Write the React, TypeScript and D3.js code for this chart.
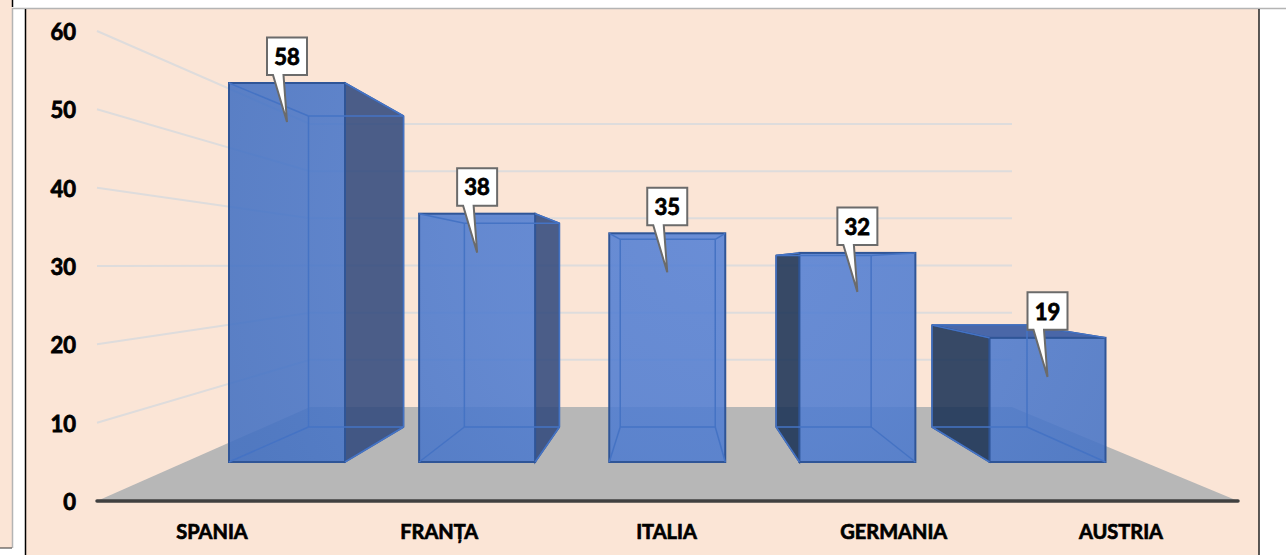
import React from "react";
import * as d3 from "d3";

const categories = ["SPANIA", "FRANȚA", "ITALIA", "GERMANIA", "AUSTRIA"];
const values = [58, 38, 35, 32, 19];
const yTicks = [0, 10, 20, 30, 40, 50, 60];

const W = 1286, H = 555;
const FONT = "Lato, Carlito, Calibri, sans-serif";
const PEACH = "#fbe5d6";

// wall / floor planes
const yWallFront = d3.scaleLinear().domain([0, 60]).range([501, 31]);
const yWallBack = d3.scaleLinear().domain([0, 60]).range([407, 124]);
const FLOOR = { fl: 97, fr: 1238, bl: 310, br: 1012 };

// bar planes
const xFront = d3.scalePoint<string>().domain(categories).range([287, 1047.5]);
const xBack = d3.scalePoint<string>().domain(categories).range([356, 979.5]);
const xLabel = d3.scalePoint<string>().domain(categories).range([212, 1121]);
const yFront = d3.scaleLinear().domain([0, 58]).range([462, 83]);
const yBack = d3.scaleLinear().domain([0, 58]).range([427, 116]);
const HW_F = 58, HW_B = 47.5;

const pts = (a: [number, number][]) => a.map((p) => p.join(",")).join(" ");

function Bar({ c, v }: { c: string; v: number }) {
  const fc = xFront(c)!, bc = xBack(c)!;
  const fl = fc - HW_F, fr = fc + HW_F, bl = bc - HW_B, br = bc + HW_B;
  const ft = yFront(v), fb = yFront(0), bt = yBack(v), bb = yBack(0);
  const EDGE = "#2f5597";
  const INNER = "#4573c4";
  const line = (x1: number, y1: number, x2: number, y2: number) => (
    <line x1={x1} y1={y1} x2={x2} y2={y2} stroke={INNER} strokeWidth={1.5} />
  );
  return (
    <g>
      {br > fr && (
        <polygon points={pts([[fr, ft], [br, bt], [br, bb], [fr, fb]])} fill="#30487c" fillOpacity={0.87} stroke={EDGE} strokeWidth={1.5} />
      )}
      {bl < fl && (
        <polygon points={pts([[fl, ft], [bl, bt], [bl, bb], [fl, fb]])} fill="#193155" fillOpacity={0.87} stroke="#2a4a80" strokeWidth={1.5} />
      )}
      {bt < ft && (
        <polygon points={pts([[fl, ft], [bl, bt], [br, bt], [fr, ft]])} fill="#2f54a1" fillOpacity={0.87} stroke={EDGE} strokeWidth={1.5} />
      )}
      <rect x={fl} y={ft} width={fr - fl} height={fb - ft} fill="url(#frontGlow)" fillOpacity={0.874} stroke={EDGE} strokeWidth={2} />
      {line(bl, bt, br, bt)}
      {line(bl, bt, bl, bb)}
      {line(br, bt, br, bb)}
      {line(bl, bb, br, bb)}
      {line(fl, ft, bl, bt)}
      {line(fr, ft, br, bt)}
      {line(fl, fb, bl, bb)}
      {line(fr, fb, br, bb)}
    </g>
  );
}

function Callout({ c, v }: { c: string; v: number }) {
  const cx = xFront(c)!;
  const top = yFront(v);
  const bx0 = cx - 20, bx1 = cx + 20, by0 = top - 45.5, by1 = top - 8;
  const tip = top + 39;
  const d = d3.path();
  d.moveTo(bx0, by0);
  d.lineTo(bx1, by0);
  d.lineTo(bx1, by1);
  d.lineTo(cx - 3.5, by1);
  d.lineTo(cx, tip);
  d.lineTo(cx - 14, by1);
  d.lineTo(bx0, by1);
  d.closePath();
  return (
    <g>
      <path d={d.toString()} fill="#ffffff" stroke="#6b6b6b" strokeWidth={2} strokeLinejoin="miter" />
      <text x={cx} y={(by0 + by1) / 2 + 8.5} textAnchor="middle" fontFamily={FONT} fontWeight={700} fontSize={22} fill="#000" stroke="#000" strokeWidth={0.8}>
        {v}
      </text>
    </g>
  );
}

export default function App() {
  return (
    <svg width={W} height={H} viewBox={`0 0 ${W} ${H}`} style={{ position: "absolute", left: 0, top: 0, display: "block", background: "#ffffff" }}>
      <defs>
        <radialGradient id="frontGlow" gradientUnits="userSpaceOnUse" cx={720} cy={230} r={520}>
          <stop offset="0" stopColor="#5581d6" />
          <stop offset="0.45" stopColor="#4f7cd0" />
          <stop offset="1" stopColor="#4270c2" />
        </radialGradient>
      </defs>
      {/* page frame */}
      <rect x={0} y={0} width={12} height={548} fill={PEACH} />
      <rect x={26} y={9} width={1233} height={546} fill={PEACH} />
      <line x1={12.5} y1={0} x2={12.5} y2={7} stroke="#000" strokeWidth={1.5} />
      <line x1={12} y1={8.5} x2={1286} y2={8.5} stroke="#b4b4b4" strokeWidth={1.5} />
      <line x1={12.5} y1={8} x2={12.5} y2={548} stroke="#b4b4b4" strokeWidth={1.5} />
      <line x1={25.5} y1={9} x2={25.5} y2={555} stroke="#000" strokeWidth={1.5} />
      <line x1={1259} y1={9} x2={1259} y2={555} stroke="#222" strokeWidth={1.5} />
      <line x1={0} y1={548} x2={12} y2={548} stroke="#333" strokeWidth={1} />

      {/* walls */}
      {yTicks.filter((t) => t > 0).map((t) => (
        <g key={t} stroke="#dedcdc" strokeWidth={2} fill="none">
          <line x1={FLOOR.fl} y1={yWallFront(t)} x2={FLOOR.bl} y2={yWallBack(t)} />
          <line x1={FLOOR.bl} y1={yWallBack(t)} x2={FLOOR.br} y2={yWallBack(t)} />
        </g>
      ))}
      <polygon
        points={pts([[FLOOR.fl, yWallFront(0)], [FLOOR.bl, yWallBack(0)], [FLOOR.br, yWallBack(0)], [FLOOR.fr, yWallFront(0)]])}
        fill="#b7b7b7"
      />
      <line x1={FLOOR.fl} y1={yWallFront(0)} x2={FLOOR.fr} y2={yWallFront(0)} stroke="#404040" strokeWidth={3.5} strokeLinecap="round" />

      {/* bars */}
      {categories.map((c, i) => <Bar key={c} c={c} v={values[i]} />)}
      {categories.map((c, i) => <Callout key={c} c={c} v={values[i]} />)}

      {/* axis labels */}
      {yTicks.map((t) => (
        <text key={t} x={76} y={yWallFront(t) + 9} textAnchor="end" fontFamily={FONT} fontWeight={700} fontSize={22} fill="#000" stroke="#000" strokeWidth={0.8}>
          {t}
        </text>
      ))}
      {categories.map((c) => (
        <text key={c} x={xLabel(c)!} y={539} textAnchor="middle" fontFamily={FONT} fontWeight={700} fontSize={20} fill="#000" stroke="#000" strokeWidth={0.7}>
          {c}
        </text>
      ))}
    </svg>
  );
}
